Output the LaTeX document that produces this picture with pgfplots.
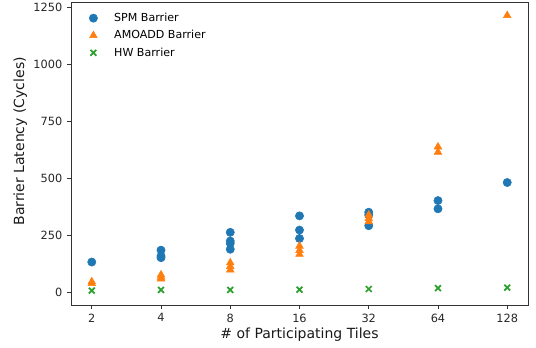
\documentclass[border=0pt]{standalone}
\usepackage{pgfplots}
\pgfplotsset{compat=1.18}
\usetikzlibrary{calc}
\usepackage{fontspec}
\setmainfont{DejaVu Sans}
\definecolor{tabblue}{HTML}{1F77B4}
\definecolor{taborange}{HTML}{FF7F0E}
\definecolor{tabgreen}{HTML}{2CA02C}
\begin{document}
\begin{tikzpicture}
\begin{axis}[
  name=ax,
  scale only axis,
  width=342.75pt, height=227.25pt,
  xmin=0.7, xmax=7.3, ymin=-54, ymax=1272,
  xtick={1,2,3,4,5,6,7},
  xticklabels={2,4,8,16,32,64,128},
  ytick={0,250,500,750,1000,1250},
  tick align=outside, tick pos=left,
  major tick length=3pt,
  tick style={black!80, line width=0.6pt},
  axis line style={black!80, line width=0.6pt},
  /pgf/number format/assume math mode=true,
  scaled y ticks=false,
  y tick label style={/pgf/number format/1000 sep={}},
  ticklabel style={font=\fontsize{8.5}{10}\selectfont, text=black!85},
  xlabel={\# of Participating Tiles},
  ylabel={Barrier Latency (Cycles)},
  label style={font=\fontsize{10.5}{12}\selectfont, text=black!90},
  xlabel style={at={(axis description cs:0.5,-0.097)}, anchor=center},
  ylabel style={at={(axis description cs:-0.111,0.54)}, anchor=center},
  legend style={draw=none, fill=none, at={(0,1)}, anchor=north west,
    xshift=10.5pt, yshift=-4pt,
    font=\fontsize{8.3}{10}\selectfont, row sep=1.2pt},
  legend cell align=left,
  clip=false,
]
\addplot[only marks, mark=*, mark size=3.1pt, color=tabblue, mark options={draw=tabblue, fill=tabblue}] coordinates {
 (1,134) (2,186) (2,160) (2,153) (3,264) (3,226) (3,216) (3,190)
 (4,336) (4,274) (4,237) (5,352) (5,340) (5,293) (6,403) (6,367) (7,482)
};
\addlegendentry{\hspace{10.5pt}SPM Barrier}
\addplot[only marks, mark=triangle*, mark size=3.3pt, color=taborange, mark options={draw=taborange, fill=taborange}] coordinates {
 (1,48) (1,40) (2,78) (2,68) (2,60) (3,131) (3,115) (3,100)
 (4,204) (4,185) (4,168) (5,340) (5,325) (5,311) (6,638) (6,615) (7,1213)
};
\addlegendentry{\hspace{10.5pt}AMOADD Barrier}
\addplot[only marks, mark=x, mark size=3.1pt, color=tabgreen, mark options={line width=1.3pt}] coordinates {
 (1,9) (2,12) (3,12) (4,13) (5,16) (6,20) (7,22)
};
\addlegendentry{\hspace{10.5pt}HW Barrier}
\end{axis}
\pgfresetboundingbox
\useasboundingbox ($(ax.south west)+(-53.25pt,-31.5pt)$) rectangle ($(ax.north east)+(6pt,1.5pt)$);
\end{tikzpicture}
\end{document}
